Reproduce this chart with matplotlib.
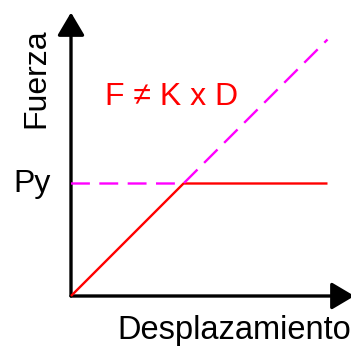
import matplotlib
matplotlib.use("Agg")
import matplotlib.pyplot as plt

plt.rcParams['font.family'] = ['Liberation Sans', 'DejaVu Sans']

# Bilinear force-displacement idealisation (normalised: Py = 1 at yield displacement 1)
elastic_x = [0.0, 1.0, 2.28]
actual_force = [0.0, 1.0, 1.0]        # elastic-plastic response
linear_force = [1.0, 1.0, 2.28]       # Py reference and linear extrapolation
py_level = 1.0
axis_extent = 2.52

W, H = 351, 350
fig = plt.figure(figsize=(W / 100, H / 100), dpi=100)
ox, oy = 71, 296           # origin in pixels
unit = 112.5               # pixels per data unit
ax = fig.add_axes([ox / W, (H - oy) / H, (W - ox) / W, oy / H])
ax.set_xlim(0, (W - ox) / unit)
ax.set_ylim(0, oy / unit)
ax.axis('off')

# Axes with arrowheads
arrow_kw = dict(arrowstyle='-|>,head_length=14,head_width=8.3', lw=2.4,
                color='black', shrinkA=0, shrinkB=0, mutation_scale=1)
ax.annotate('', xy=(0, axis_extent), xytext=(0, 0), arrowprops=arrow_kw,
            annotation_clip=False)
ax.annotate('', xy=(axis_extent, 0), xytext=(0, 0), arrowprops=arrow_kw,
            annotation_clip=False)

ax.plot(elastic_x, actual_force, color='#FF0000', lw=1.7, clip_on=False,
        solid_capstyle='butt', zorder=3)
ax.plot(elastic_x, linear_force, color='#FF00FF', lw=1.7, clip_on=False,
        linestyle=(0, (8, 4)), zorder=4)

fig.text(36 / W, 1 - 78 / H, 'Fuerza', rotation=90, fontsize=23,
         ha='center', va='center', color='black')
fig.text(32 / W, 1 - 184 / H, 'Py', fontsize=23, ha='center', va='center',
         color='black')
fig.text(234 / W, 1 - 330 / H, 'Desplazamiento', fontsize=23.5,
         ha='center', va='center', color='black')
fig.text(172 / W, 1 - 97 / H, 'F ≠ K x D', fontsize=23, ha='center',
         va='center', color='#FF0000')

fig.savefig('out.png', dpi=100, facecolor='white')
